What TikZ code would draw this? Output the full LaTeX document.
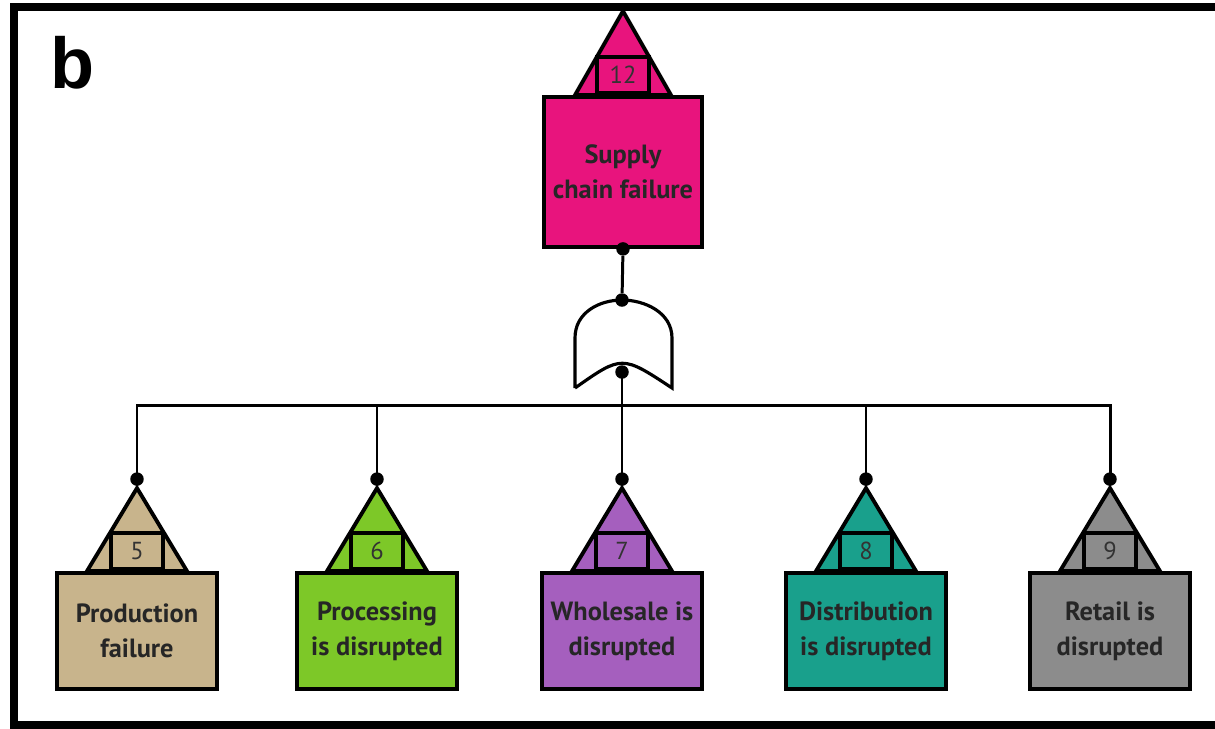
\documentclass[tikz,border=0pt]{standalone}
\usepackage{fontspec}
\setmainfont{PT Sans}
\newfontfamily\panelfont{Liberation Sans}
\usetikzlibrary{positioning}

\definecolor{ftpink}{HTML}{E8147D}
\definecolor{fttan}{HTML}{C8B48C}
\definecolor{ftgreen}{HTML}{7DC828}
\definecolor{ftpurple}{HTML}{A55FBE}
\definecolor{ftteal}{HTML}{19A08C}
\definecolor{ftgray}{HTML}{8C8C8C}

\begin{document}
\begin{tikzpicture}[x=0.02cm, y=-0.02cm, line join=miter,
  event/.style={draw, line width=2.2pt, minimum width=3.2cm, minimum height=2.32cm,
    align=center, inner sep=0pt, text=black!85, font=\bfseries\fontsize{15}{19.8}\selectfont},
  tri/.style={draw, line width=2.2pt},
  idbox/.style={draw, line width=2.2pt, anchor=south, inner sep=0pt, text=black!80,
    minimum width=1.04cm, minimum height=0.72cm, font=\fontsize{14}{15}\selectfont},
  wire/.style={line width=1.7pt},
  dot/.style={circle, fill, inner sep=0pt, minimum size=0.27cm}]
  \useasboundingbox (0,0) rectangle (1215,728);
  % open frame
  \draw[line width=4pt] (1215,7) -- (14,7) -- (14,725) -- (1215,725);
  \node[anchor=base west, inner sep=0pt, font=\panelfont\bfseries\fontsize{41}{41}\selectfont] (panel) at (50,88) {b};

  % top event
  \node[event, fill=ftpink, minimum width=3.16cm, minimum height=3cm] (top) at (623,172) {Supply\\chain failure};
  \filldraw[tri, fill=ftpink] ([xshift=-0.96cm]top.north) -- ([yshift=1.68cm]top.north) -- ([xshift=0.96cm]top.north) -- cycle;
  \node[idbox] (topid) at (top.north) {12};
  \node[dot] (topout) at (top.south) {};

  % or gate
  \node[dot] (orin) at (622,300) {};
  \node[dot] (orout) at (622,372) {};
  \draw[line width=1.8pt] (575,388) -- (575,338) .. controls (575,312) and (600,300) .. (orin.center)
    .. controls (644,300) and (672,312) .. (672,338) -- (672,388) .. controls (622,355) .. (575,388);
  \draw[wire] (topout) -- (orin);

  % basic events
  \foreach \x/\c/\n/\t [count=\i] in {137/fttan/5/{Production\\failure}, 377/ftgreen/6/{Processing\\is disrupted},
      622/ftpurple/7/{Wholesale is\\disrupted}, 866/ftteal/8/{Distribution\\is disrupted}, 1110/ftgray/9/{Retail is\\disrupted}} {
    \node[event, fill=\c] (ev\i) at (\x,631) {\t};
    \filldraw[tri, fill=\c] ([xshift=-1cm]ev\i.north) -- ([yshift=1.66cm]ev\i.north) -- ([xshift=1cm]ev\i.north) -- cycle;
    \node[idbox] (id\i) at (ev\i.north) {\n};
    \node[dot] (pin\i) at ([yshift=1.84cm]ev\i.north) {};
  }

  \coordinate (bus) at (622,405);
  \draw[wire] (pin1.center) |- (bus) -| (pin5.center);
  \draw[wire] (pin2.center) -- (pin2 |- bus);
  \draw[wire] (pin4.center) -- (pin4 |- bus);
  \draw[wire] (orout.center) -- (pin3.center);
\end{tikzpicture}
\end{document}
